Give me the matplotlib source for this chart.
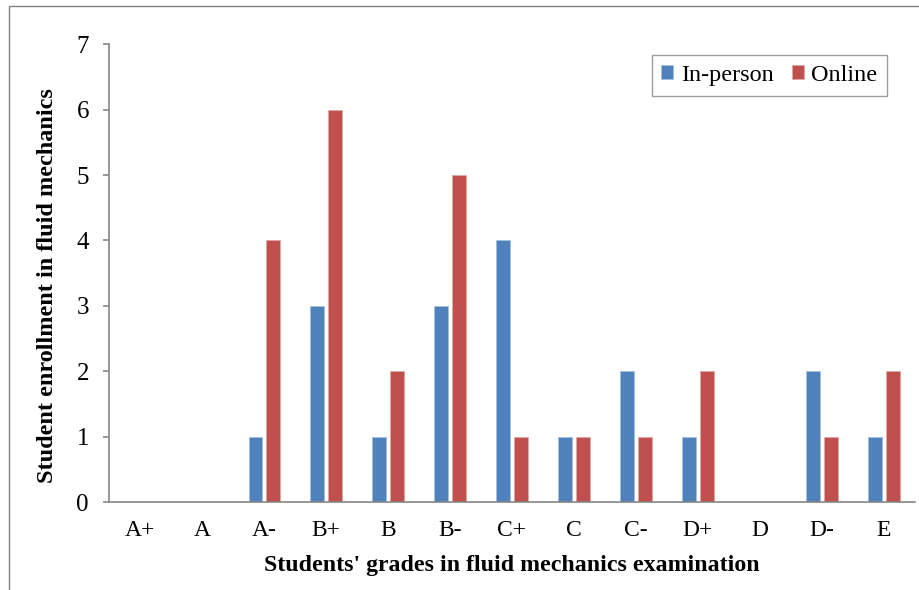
import numpy as np
import matplotlib.pyplot as plt
from matplotlib.patches import Rectangle

# grades and number of students per delivery mode
grades = ['A+', 'A', 'A-', 'B+', 'B', 'B-', 'C+', 'C', 'C-', 'D+', 'D', 'D-', 'E']
in_person = [0, 0, 1, 3, 1, 3, 4, 1, 2, 1, 0, 2, 1]
online = [0, 0, 4, 6, 2, 5, 1, 1, 1, 2, 0, 1, 2]

plt.rcParams['font.family'] = ['Liberation Serif', 'DejaVu Serif']

fig = plt.figure(figsize=(9.2, 5.9), dpi=100)
ax = fig.add_axes([0.1185, 0.149, 0.876, 0.776])

# outer chart frame
fig.patches.append(Rectangle((9 / 920, -0.1), 1.2, 1 - 6 / 590 + 0.1,
                             transform=fig.transFigure, fill=False,
                             edgecolor='#808080', linewidth=1.0))

x = np.arange(len(grades))
w = 0.22
ax.bar(x - 0.14, in_person, w, color='#4F81BD', edgecolor='#A7C0DE',
       linewidth=0.6, label='In-person')
ax.bar(x + 0.145, online, w, color='#C0504D', edgecolor='#E0A8A6',
       linewidth=0.6, label='Online')

ax.set_xlim(-0.5, len(grades) - 0.5)
ax.set_ylim(0, 7)
ax.set_yticks(range(0, 8))
ax.set_xticks(x)
ax.set_xticklabels(grades)

for side in ['top', 'right']:
    ax.spines[side].set_visible(False)
for side in ['left', 'bottom']:
    ax.spines[side].set_color('#868686')
    ax.spines[side].set_linewidth(1.2)

ax.tick_params(axis='y', length=4.5, color='#868686', width=1.2,
               labelsize=18, pad=10)
ax.tick_params(axis='x', length=0, labelsize=17, pad=13)

ax.set_xlabel("Students' grades in fluid mechanics examination",
              fontsize=17.2, fontweight='bold', labelpad=10)
ax.set_ylabel('Student enrollment in fluid mechanics',
              fontsize=17.5, fontweight='bold')
ax.yaxis.set_label_coords(-0.0633, 0.472)

leg = ax.legend(loc='upper right', bbox_to_anchor=(0.9653, 0.976), ncol=2,
                fontsize=17.5, frameon=True, fancybox=False, handlelength=0.5,
                handleheight=0.5, handletextpad=0.3, columnspacing=0.75,
                borderpad=0.4, borderaxespad=0)
leg.get_frame().set_edgecolor('#868686')
leg.get_frame().set_linewidth(1.0)

fig.savefig('out.png', dpi=100)
